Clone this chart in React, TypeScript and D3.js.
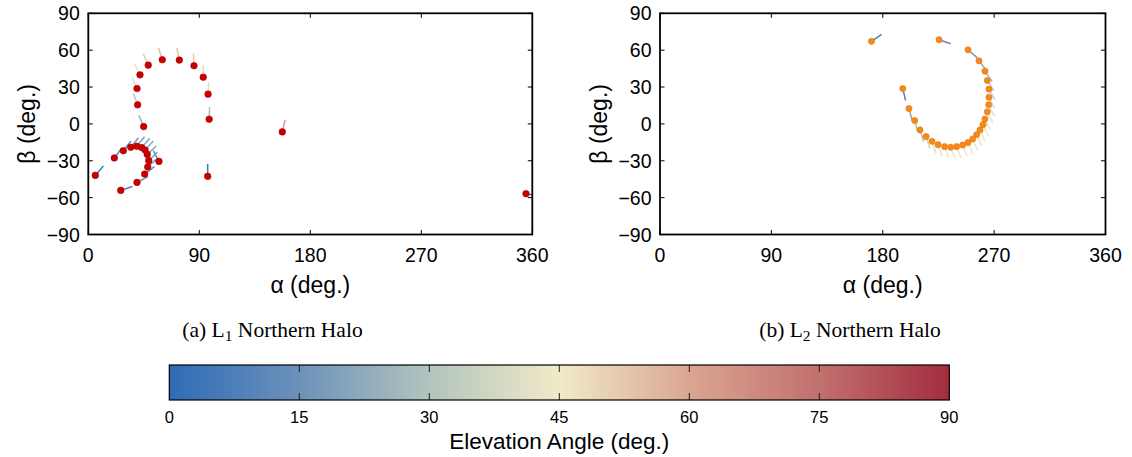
import React from "react";
import * as d3 from "d3";

// Axis ticks
const ALPHA_TICKS = [0, 90, 180, 270, 360];
const BETA_TICKS = [-90, -60, -30, 0, 30, 60, 90];
const ELEV_TICKS = [0, 15, 30, 45, 60, 75, 90];
const ELEV_COLORS = ["#2f6bb6", "#6c92bb", "#b2c4be", "#f1eac8", "#daa691", "#c2706e", "#a32d3e"];

// L1 northern halo: position (alpha, beta), elevation angle, glyph heading (deg, clockwise from up)
const l1Alpha = [44.9, 40.0, 39.5, 41.9, 48.6, 60.0, 73.8, 85.7, 93.2, 97.1, 98.0, 96.8,
  5.7, 21.1, 28.4, 34.4, 39.2, 43.3, 46.0, 47.8, 49.0, 57.3, 48.2, 45.7, 39.5, 26.3,
  157.3, 354.9];
const l1Beta = [-2.2, 15.5, 28.8, 39.9, 47.8, 52.2, 51.9, 47.3, 38.0, 24.2, 3.8, -42.7,
  -41.9, -27.7, -21.8, -19.0, -18.2, -19.3, -21.2, -24.8, -29.9, -30.5, -35.1, -40.8, -47.6, -54.1,
  -6.5, -56.8];
const l1Elev = [25, 33, 42, 46, 52, 55, 55, 52, 48, 42, 28, 6,
  6, 10, 14, 17, 19, 20, 21, 22, 20, 12, 18, 15, 11, 7,
  63, 5];
const l1Heading = [-23, -21, -24, -26, -24, -18, -11, -3, 0, 3, 2, 0,
  41, 37, 38, 39, 40, 41, 43, 47, 45, -28, 48, 53, 62, 72,
  13, 100];

// L2 northern halo
const l2Alpha = [170.9, 225.5, 248.9, 257.8, 262.6, 264.5, 265.8, 265.8, 265.6, 264.5, 262.6, 261.0,
  258.6, 255.9, 252.7, 248.9, 244.6, 239.7, 234.9, 230.0, 224.7, 219.8, 215.0, 210.1, 205.8, 201.2, 196.2];
const l2Beta = [67.2, 68.5, 60.3, 51.3, 42.9, 35.3, 28.3, 21.7, 15.5, 9.8, 4.0, -0.6,
  -4.9, -8.7, -12.3, -15.2, -17.2, -18.5, -19.0, -18.5, -16.9, -14.2, -10.3, -4.9, 2.7, 12.5, 28.8];
const l2Elev = [8, 12, 16, 22, 28, 33, 37, 40, 42, 43, 44, 44,
  44, 44, 44, 44, 44, 44, 44, 44, 43, 40, 36, 32, 27, 20, 10];
const l2Heading = [55, 109, 131, 142, 145, 148, 150, 152, 153, 154, 155, 155,
  156, 157, 157, 158, 158, 159, 159, 160, 160, 161, 162, 163, 164, 165, 167];

const W = 1132;
const H = 457;
const PLOT_TOP = 13.3;
const PLOT_BOTTOM = 234.5;
const GLYPH_LEN = 12.3;
const SANS = "'Liberation Sans', Arial, Helvetica, sans-serif";
const SERIF = "'Liberation Serif', 'Times New Roman', serif";

const elevColor = d3
  .scaleLinear<string>()
  .domain(ELEV_TICKS)
  .range(ELEV_COLORS)
  .interpolate(d3.interpolateRgb);

type PanelProps = {
  id: string;
  x0: number;
  x1: number;
  alpha: number[];
  beta: number[];
  elev: number[];
  heading: number[];
  dotFill: string;
  dotStroke: string;
  dotR: number;
  captionTag: string;
  captionSub: string;
  captionX: number;
};

function Panel(p: PanelProps) {
  const x = d3.scaleLinear().domain([0, 360]).range([p.x0, p.x1]);
  const y = d3.scaleLinear().domain([-90, 90]).range([PLOT_BOTTOM, PLOT_TOP]);
  const tick = 4.5;
  const cx = (p.x0 + p.x1) / 2;
  const cy = (PLOT_TOP + PLOT_BOTTOM) / 2;
  const pts = p.alpha.map((a, i) => {
    const px = x(a);
    const py = y(p.beta[i]);
    const th = (p.heading[i] * Math.PI) / 180;
    return {
      px,
      py,
      ex: px + GLYPH_LEN * Math.sin(th),
      ey: py - GLYPH_LEN * Math.cos(th),
      c: elevColor(p.elev[i]),
    };
  });
  return (
    <g>
      <defs>
        <clipPath id={p.id}>
          <rect x={p.x0} y={PLOT_TOP} width={p.x1 - p.x0} height={PLOT_BOTTOM - PLOT_TOP} />
        </clipPath>
      </defs>
      <g clipPath={`url(#${p.id})`}>
        {pts.map((d, i) => (
          <line key={`l${i}`} x1={d.px} y1={d.py} x2={d.ex} y2={d.ey} stroke={d.c} strokeWidth={1.5} />
        ))}
        {pts.map((d, i) => (
          <circle key={`c${i}`} cx={d.px} cy={d.py} r={p.dotR} fill={p.dotFill} stroke={p.dotStroke} strokeWidth={0.6} />
        ))}
      </g>
      {/* ticks on all four sides, pointing inward */}
      {ALPHA_TICKS.map((t) => (
        <g key={`xt${t}`} stroke="#000" strokeWidth={1}>
          <line x1={x(t)} x2={x(t)} y1={PLOT_BOTTOM} y2={PLOT_BOTTOM - tick} />
          <line x1={x(t)} x2={x(t)} y1={PLOT_TOP} y2={PLOT_TOP + tick} />
        </g>
      ))}
      {BETA_TICKS.map((t) => (
        <g key={`yt${t}`} stroke="#000" strokeWidth={1}>
          <line x1={p.x0} x2={p.x0 + tick} y1={y(t)} y2={y(t)} />
          <line x1={p.x1} x2={p.x1 - tick} y1={y(t)} y2={y(t)} />
        </g>
      ))}
      <rect
        x={p.x0}
        y={PLOT_TOP}
        width={p.x1 - p.x0}
        height={PLOT_BOTTOM - PLOT_TOP}
        fill="none"
        stroke="#000"
        strokeWidth={1.8}
      />
      {ALPHA_TICKS.map((t) => (
        <text key={`xl${t}`} x={x(t)} y={261.5} textAnchor="middle" fontFamily={SANS} fontSize={19.5} fill="#000">
          {t}
        </text>
      ))}
      {BETA_TICKS.map((t) => (
        <text
          key={`yl${t}`}
          x={p.x0 - 8.5}
          y={y(t)}
          dy="0.36em"
          textAnchor="end"
          fontFamily={SANS}
          fontSize={19.5}
          fill="#000"
        >
          {t < 0 ? `\u2212${-t}` : t}
        </text>
      ))}
      <text x={cx} y={293} textAnchor="middle" fontFamily={SANS} fontSize={23} fill="#000">
        {"\u03b1 (deg.)"}
      </text>
      <text
        transform={`translate(${p.x0 - 53},${cy}) rotate(-90)`}
        textAnchor="middle"
        fontFamily={SANS}
        fontSize={23}
        fill="#000"
      >
        {"\u03b2 (deg.)"}
      </text>
      <text x={p.captionX} y={337} textAnchor="middle" fontFamily={SERIF} fontSize={21.5} fill="#000">
        {p.captionTag}
        {" L"}
        <tspan fontSize={15.5} dy={3.5}>{p.captionSub}</tspan>
        <tspan dy={-3.5}>{" Northern Halo"}</tspan>
      </text>
    </g>
  );
}

function ColorBar() {
  const x0 = 169.3;
  const x1 = 949.3;
  const top = 365;
  const bottom = 400;
  const x = d3.scaleLinear().domain([0, 90]).range([x0, x1]);
  const stops = d3.range(0, 91, 5);
  return (
    <g>
      <defs>
        <linearGradient id="elevGrad" x1="0" x2="1" y1="0" y2="0">
          {stops.map((s) => (
            <stop key={s} offset={`${(s / 90) * 100}%`} stopColor={elevColor(s)} />
          ))}
        </linearGradient>
      </defs>
      <rect x={x0} y={top} width={x1 - x0} height={bottom - top} fill="url(#elevGrad)" />
      {ELEV_TICKS.slice(1, -1).map((t) => (
        <g key={t} stroke="#222" strokeWidth={1}>
          <line x1={x(t)} x2={x(t)} y1={top} y2={top + 7} />
          <line x1={x(t)} x2={x(t)} y1={bottom} y2={bottom - 7} />
        </g>
      ))}
      <rect x={x0} y={top} width={x1 - x0} height={bottom - top} fill="none" stroke="#000" strokeWidth={1.2} />
      {ELEV_TICKS.map((t) => (
        <text key={`el${t}`} x={x(t)} y={422.5} textAnchor="middle" fontFamily={SANS} fontSize={16.5} fill="#000">
          {t}
        </text>
      ))}
      <text x={(x0 + x1) / 2} y={449} textAnchor="middle" fontFamily={SANS} fontSize={22.5} fill="#000">
        Elevation Angle (deg.)
      </text>
    </g>
  );
}

export default function App() {
  return (
    <svg
      width={W}
      height={H}
      viewBox={`0 0 ${W} ${H}`}
      style={{ position: "absolute", left: 0, top: 0, background: "#fff" }}
    >
      <rect width={W} height={H} fill="#fff" />
      <Panel
        id="clipL1"
        x0={88.3}
        x1={532.3}
        alpha={l1Alpha}
        beta={l1Beta}
        elev={l1Elev}
        heading={l1Heading}
        dotFill="#cc0000"
        dotStroke="#a00000"
        dotR={3.3}
        captionTag="(a)"
        captionSub="1"
        captionX={272.5}
      />
      <Panel
        id="clipL2"
        x0={660}
        x1={1105.5}
        alpha={l2Alpha}
        beta={l2Beta}
        elev={l2Elev}
        heading={l2Heading}
        dotFill="#f7891a"
        dotStroke="#e07810"
        dotR={3.1}
        captionTag="(b)"
        captionSub="2"
        captionX={850}
      />
      <ColorBar />
    </svg>
  );
}
